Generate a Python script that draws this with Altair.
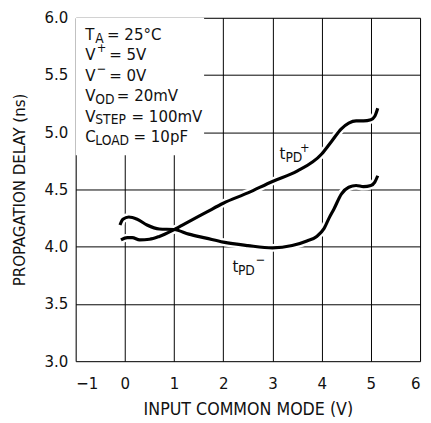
import altair as alt
import pandas as pd

# tPD+ curve
xp = [-0.08, 0.05, 0.15, 0.3, 0.5, 0.7, 1.0, 1.3, 1.65, 2.0, 2.5, 3.0, 3.5, 4.0, 4.2, 4.4, 4.55, 4.7, 4.85, 5.0, 5.08, 5.14]
yp = [4.06, 4.08, 4.08, 4.06, 4.065, 4.09, 4.15, 4.22, 4.30, 4.38, 4.47, 4.57, 4.66, 4.81, 4.92, 5.03, 5.08, 5.10, 5.10, 5.11, 5.14, 5.21]
# tPD- curve
xm = [-0.1, -0.04, 0.08, 0.25, 0.45, 0.7, 1.0, 1.3, 1.65, 2.0, 2.5, 3.0, 3.4, 3.7, 3.9, 4.05, 4.15, 4.25, 4.4, 4.55, 4.7, 4.85, 5.0, 5.08, 5.14]
ym = [4.19, 4.24, 4.26, 4.24, 4.19, 4.155, 4.15, 4.11, 4.075, 4.04, 4.01, 3.99, 4.01, 4.05, 4.09, 4.16, 4.25, 4.33, 4.46, 4.52, 4.535, 4.525, 4.535, 4.565, 4.62]

x_ticks = [-1, 0, 1, 2, 3, 4, 5, 6]
y_ticks = [3.0, 3.5, 4.0, 4.5, 5.0, 5.5, 6.0]

# annotation text pieces: main, sub/sup, rest
box_main = ["T", "V", "V", "V", "V", "C"]
box_small = ["A", "+", "\u2212", "OD", "STEP", "LOAD"]
box_kind = ["sub", "sup", "sup", "sub", "sub", "sub"]
box_rest = ["= 25\u00b0C", "= 5V", "= 0V", "= 20mV", "= 100mV", "= 10pF"]
box_y = [5.807, 5.629, 5.451, 5.272, 5.094, 4.916]
box_rest_x = [-0.363, -0.32, -0.32, -0.163, 0.135, 0.175]

FONT = "Liberation Sans Narrow, DejaVu Sans Condensed, Arial Narrow, sans-serif"

curves = pd.DataFrame(
    [{"x": a, "y": b, "s": "tPD+"} for a, b in zip(xp, yp)]
    + [{"x": a, "y": b, "s": "tPD-"} for a, b in zip(xm, ym)]
)

xscale = alt.Scale(domain=[-1, 6], nice=False, zero=False)
yscale = alt.Scale(domain=[3, 6], nice=False, zero=False)

xaxis = alt.Axis(values=x_ticks, title="INPUT COMMON MODE (V)", format="d",
                 grid=True, gridColor="#000", gridWidth=1, ticks=False, domain=False,
                 labelFont=FONT, labelFontSize=17, labelColor="#111", labelPadding=15,
                 titleFont=FONT, titleFontSize=18, titleFontWeight="normal", titleColor="#111",
                 titlePadding=9)
yaxis = alt.Axis(values=y_ticks, title="PROPAGATION DELAY (ns)", format=".1f",
                 grid=True, gridColor="#000", gridWidth=1, ticks=False, domain=False,
                 labelFont=FONT, labelFontSize=17, labelColor="#111", labelPadding=8,
                 titleFont=FONT, titleFontSize=17, titleFontWeight="normal", titleColor="#111",
                 titlePadding=16)

base = alt.Chart(curves)

bg = alt.Chart(pd.DataFrame({"x": [-1], "x2": [1.61], "y": [6], "y2": [4.80]})).mark_rect(
    color="white").encode(
    x=alt.X("x:Q", scale=xscale, axis=xaxis), x2="x2", y=alt.Y("y:Q", scale=yscale, axis=yaxis), y2="y2")

halo = base.mark_line(color="white", strokeWidth=8, interpolate="monotone").encode(
    x=alt.X("x:Q", scale=xscale), y=alt.Y("y:Q", scale=yscale), detail="s:N")
line = base.mark_line(color="black", strokeWidth=3.2, interpolate="monotone").encode(
    x=alt.X("x:Q", scale=xscale), y=alt.Y("y:Q", scale=yscale), detail="s:N")

box = pd.DataFrame({"main": box_main, "small": box_small, "kind": box_kind,
                    "rest": box_rest, "y": box_y, "rx": box_rest_x})
box["mx"] = -0.807
box["sx"] = -0.602
box["supx"] = -0.57

t_main = alt.Chart(box).mark_text(font=FONT, fontSize=17, align="left", baseline="alphabetic", color="#111").encode(
    x=alt.X("mx:Q", scale=xscale), y=alt.Y("y:Q", scale=yscale), text="main:N")
t_rest = alt.Chart(box).mark_text(font=FONT, fontSize=17, align="left", baseline="alphabetic", color="#111").encode(
    x=alt.X("rx:Q", scale=xscale), y=alt.Y("y:Q", scale=yscale), text="rest:N")
t_sub = alt.Chart(box).transform_filter(alt.datum.kind == "sub").mark_text(
    font=FONT, fontSize=14, align="left", baseline="alphabetic", color="#111", dy=3).encode(
    x=alt.X("sx:Q", scale=xscale), y=alt.Y("y:Q", scale=yscale), text="small:N")
t_sup = alt.Chart(box).transform_filter(alt.datum.kind == "sup").mark_text(
    font=FONT, fontSize=13, align="left", baseline="alphabetic", color="#111", dy=-8).encode(
    x=alt.X("supx:Q", scale=xscale), y=alt.Y("y:Q", scale=yscale), text="small:N")

# curve labels
lab = pd.DataFrame({
    "tx": [3.143, 2.187], "px": [3.263, 2.297], "sx": [3.56, 2.66],
    "y": [4.763, 3.778], "sup": ["+", "\u2212"]})
l_t = alt.Chart(lab).mark_text(font=FONT, fontSize=17, align="left", baseline="alphabetic", color="#111", text="t").encode(
    x=alt.X("tx:Q", scale=xscale), y=alt.Y("y:Q", scale=yscale))
l_pd = alt.Chart(lab).mark_text(font=FONT, fontSize=14, align="left", baseline="alphabetic", color="#111", text="PD", dy=3).encode(
    x=alt.X("px:Q", scale=xscale), y=alt.Y("y:Q", scale=yscale))
l_sup = alt.Chart(lab).mark_text(font=FONT, fontSize=13, align="left", baseline="alphabetic", color="#111", dy=-8).encode(
    x=alt.X("sx:Q", scale=xscale), y=alt.Y("y:Q", scale=yscale), text="sup:N")

chart = alt.layer(bg, halo, line, t_main, t_rest, t_sub, t_sup, l_t, l_pd, l_sup).properties(
    width=351, height=350,
    autosize=alt.AutoSizeParams(type="none"),
    padding={"left": 69, "top": 6, "right": 3, "bottom": 58},
).configure_view(stroke="black", strokeWidth=2).configure(background="white")

chart.save("out.html", embed_options={"renderer": "svg", "actions": False})
